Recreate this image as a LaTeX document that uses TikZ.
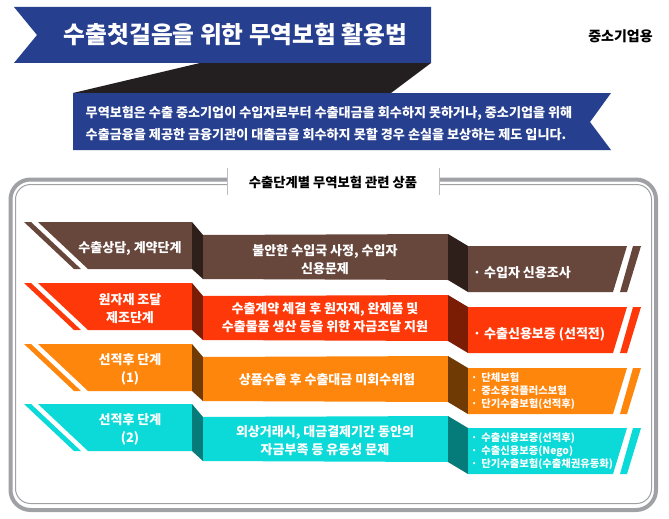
\documentclass[tikz,border=0pt]{standalone}
\usepackage{fontspec}
\setmainfont{Noto Sans CJK KR}
\definecolor{cNavy}{HTML}{263F8F}
\definecolor{cShadow}{HTML}{231F20}
\definecolor{cFrame}{HTML}{A0A1A5}
\definecolor{cBrown}{HTML}{67463C}\definecolor{dBrown}{HTML}{2E1F1B}
\definecolor{cRed}{HTML}{FF3809}\definecolor{dRed}{HTML}{7B1C05}
\definecolor{cOrange}{HTML}{FF860D}\definecolor{dOrange}{HTML}{703A04}
\definecolor{cCyan}{HTML}{0CDAD8}\definecolor{dCyan}{HTML}{067C7A}
\tikzset{x=1pt,y=-1pt,
  bandtext/.style={text=white,font=\bfseries\fontsize{13}{18}\selectfont,align=center,inner sep=0pt},
  smalltext/.style={text=white,font=\bfseries\fontsize{10.3}{13}\selectfont,align=left,anchor=west,inner sep=0pt},
  itemtext/.style={text=white,font=\bfseries\fontsize{13}{16}\selectfont,anchor=west,inner sep=0pt},
  darktext/.style={text=black,inner sep=0pt}}
\newcommand{\band}[3]{%
  \fill[#2] (24,#1) -- (31,#1) -- (81,#1+47) -- (74,#1+47) -- cycle;
  \fill[#2] (38,#1) -- (192,#1) -- (192,#1+47) -- (88,#1+47) -- cycle;
  \fill[#3] (192,#1) -- (203,#1+13) -- (203,#1+57) -- (192,#1+47) -- cycle;
  \fill[#2] (203,#1+13) -- (448,#1+12) -- (448,#1+58) -- (203,#1+57) -- cycle;
  \fill[#3] (448,#1+12) -- (468,#1+24) -- (468,#1+70) -- (448,#1+58) -- cycle;
  \fill[#2] (468,#1+24) -- (627,#1+24) -- (613,#1+70) -- (468,#1+70) -- cycle;
  \fill[#2] (633,#1+24) -- (641,#1+24) -- (627,#1+70) -- (620,#1+70) -- cycle;
}
\begin{document}
\begin{tikzpicture}
\useasboundingbox (0,0) rectangle (669,519);
\fill[white] (0,0) rectangle (669,519);
% ribbons
\fill[cShadow] (200,63) -- (431,63) -- (391,93) -- (73,93) -- cycle;
\fill[cNavy] (14,7) -- (431,7) -- (431,63) -- (14,63) -- (37,35) -- cycle;
\fill[cNavy] (73,93) -- (611,93) -- (590,122) -- (611,150) -- (73,150) -- cycle;
\node[text=white,font=\bfseries\fontsize{23.7}{28}\selectfont,inner sep=0pt] (title) at (235.5,34.5) {수출첫걸음을 위한 무역보험 활용법};
\node[darktext,font=\bfseries\fontsize{14}{16}\selectfont] (audience) at (620.5,36.5) {중소기업용};
\node[text=white,font=\bfseries\fontsize{13.1}{22}\selectfont,align=left,anchor=west,inner sep=0pt] (intro) at (85.5,124) {무역보험은 수출 중소기업이 수입자로부터 수출대금을 회수하지 못하거나, 중소기업을 위해\\수출금융을 제공한 금융기관이 대출금을 회수하지 못할 경우 손실을 보상하는 제도 입니다.};
% frame
\draw[cFrame,line width=4pt,rounded corners=20pt] (227,179.5) -- (10.5,179.5) -- (10.5,510) -- (656,510) -- (656,179.5) -- (439,179.5);
\draw[cFrame,line width=1pt,rounded corners=15pt] (227,184.5) -- (15.5,184.5) -- (15.5,503.5) -- (651.5,503.5) -- (651.5,184.5) -- (439,184.5);
\draw[cFrame!70,line width=.8pt] (227,168) -- (227,195);
\draw[cFrame!70,line width=.8pt] (439,168) -- (439,195);
\node[darktext,font=\bfseries\fontsize{13.3}{15}\selectfont] (heading) at (333,182) {수출단계별 무역보험 관련 상품};
% bands
\band{222}{cBrown}{dBrown}
\band{283}{cRed}{dRed}
\band{344}{cOrange}{dOrange}
\band{404}{cCyan}{dCyan}
% left labels
\node[bandtext] (l1) at (130,248) {수출상담, 계약단계};
\node[bandtext] (l2) at (130,308.5) {원자재 조달\\제조단계};
\node[bandtext] (l3) at (130,369) {선적후 단계\\(1)};
\node[bandtext] (l4) at (130,429) {선적후 단계\\(2)};
% middle labels
\node[bandtext] (m1) at (325,259.5) {불안한 수입국 사정, 수입자\\신용문제};
\node[bandtext] (m2) at (325,318) {수출계약 체결 후 원자재, 완제품 및\\수출물품 생산 등을 위한 자금조달 지원};
\node[bandtext] (m3) at (327,380) {상품수출 후 수출대금 미회수위험};
\node[bandtext] (m4) at (325,441) {외상거래시, 대금결제기간 동안의\\자금부족 등 유동성 문제};
% right labels
\node[itemtext] (r1) at (473,273) {·\hspace{3pt}수입자 신용조사};
\node[itemtext] (r2) at (473,334) {·\hspace{3pt}수출신용보증 (선적전)};
\node[smalltext] (r3) at (471,391) {·\hspace{4pt}단체보험\\·\hspace{4pt}중소중견플러스보험\\·\hspace{4pt}단기수출보험(선적후)};
\node[smalltext] (r4) at (471,451) {·\hspace{4pt}수출신용보증(선적후)\\·\hspace{4pt}수출신용보증(Nego)\\·\hspace{4pt}단기수출보험(수출채권유동화)};
\end{tikzpicture}
\end{document}
